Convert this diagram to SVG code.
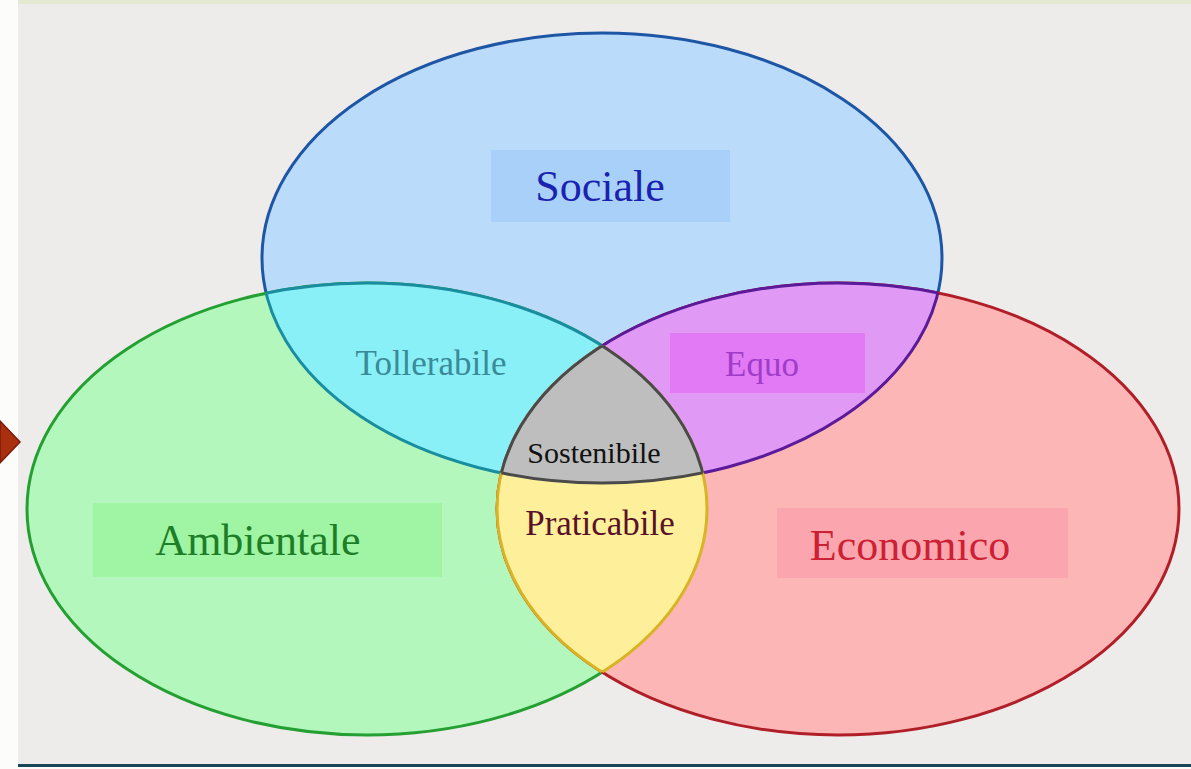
<svg xmlns="http://www.w3.org/2000/svg" width="1191" height="769" viewBox="0 0 1191 769">
<style>
text{font-family:"Liberation Serif","Times New Roman",serif;text-anchor:middle}
.big{font-size:44px}
.mid{font-size:35px}
.sw{stroke-width:3}
</style>
<defs>
<clipPath id="cB"><ellipse cx="602" cy="258" rx="340" ry="225"/></clipPath>
<clipPath id="cG"><ellipse cx="367" cy="509" rx="340" ry="226"/></clipPath>
<clipPath id="cR"><ellipse cx="838" cy="509" rx="341" ry="226"/></clipPath>
</defs>
<rect x="0" y="0" width="1191" height="769" fill="#EEECEA"/>
<rect x="0" y="0" width="1191" height="4" fill="#E4EAD2"/>
<rect x="0" y="0" width="18" height="769" fill="#FCFCFA"/>
<rect x="18" y="764" width="1173" height="3" fill="#1A4658"/>
<rect x="0" y="767" width="1191" height="2" fill="#FCFCFA"/>
<polygon points="0,421 20,442 0,463" fill="#A8300E" stroke="#7A1A08" stroke-width="1.5"/>

<g id="sociale">
<ellipse cx="602" cy="258" rx="340" ry="225" fill="#BBDBFA" stroke="#1E56A6" class="sw"/>
</g>
<g id="ambientale">
<ellipse cx="367" cy="509" rx="340" ry="226" fill="#B4F7BC" stroke="#24A032" class="sw"/>
</g>
<g id="economico">
<ellipse cx="838" cy="509" rx="341" ry="226" fill="#FDB6B6" stroke="#B01E28" class="sw"/>
</g>

<g id="tollerabile">
<g clip-path="url(#cG)"><ellipse cx="602" cy="258" rx="340" ry="225" fill="#88F0F6" stroke="#1A8E9E" class="sw"/></g>
<g clip-path="url(#cB)"><ellipse cx="367" cy="509" rx="340" ry="226" fill="none" stroke="#1A8E9E" class="sw"/></g>
</g>
<g id="equo">
<g clip-path="url(#cR)"><ellipse cx="602" cy="258" rx="340" ry="225" fill="#E09AF6" stroke="#5A1A9A" class="sw"/></g>
<g clip-path="url(#cB)"><ellipse cx="838" cy="509" rx="341" ry="226" fill="none" stroke="#5A1A9A" class="sw"/></g>
</g>
<g id="praticabile">
<g clip-path="url(#cR)"><ellipse cx="367" cy="509" rx="340" ry="226" fill="#FEF09A" stroke="#D8B424" class="sw"/></g>
<g clip-path="url(#cG)"><ellipse cx="838" cy="509" rx="341" ry="226" fill="none" stroke="#D8B424" class="sw"/></g>
</g>
<g id="sostenibile">
<g clip-path="url(#cG)"><g clip-path="url(#cR)"><ellipse cx="602" cy="258" rx="340" ry="225" fill="#BEBEBE" stroke="#4A4A4A" class="sw"/></g></g>
<g clip-path="url(#cB)"><g clip-path="url(#cR)"><ellipse cx="367" cy="509" rx="340" ry="226" fill="none" stroke="#4A4A4A" class="sw"/></g></g>
<g clip-path="url(#cB)"><g clip-path="url(#cG)"><ellipse cx="838" cy="509" rx="341" ry="226" fill="none" stroke="#4A4A4A" class="sw"/></g></g>
</g>

<g id="labels">
<rect x="491" y="150" width="239" height="72" fill="#A8D0F8"/>
<text x="600" y="201" class="big" fill="#1A22B0">Sociale</text>
<rect x="93" y="503" width="349" height="74" fill="#A0F5A4"/>
<text x="258" y="555" class="big" fill="#1E7E28">Ambientale</text>
<rect x="777" y="508" width="291" height="70" fill="#FBA6AE"/>
<text x="910" y="560" class="big" fill="#CC2035">Economico</text>
<text x="431" y="375" class="mid" fill="#3A8A98">Tollerabile</text>
<rect x="670" y="333" width="195" height="60" fill="#E27AF6"/>
<text x="762" y="376" class="mid" fill="#A03CC8">Equo</text>
<text x="594" y="463" font-size="30" fill="#111111">Sostenibile</text>
<text x="600" y="535" font-size="35" fill="#5A1028">Praticabile</text>
</g>
</svg>
